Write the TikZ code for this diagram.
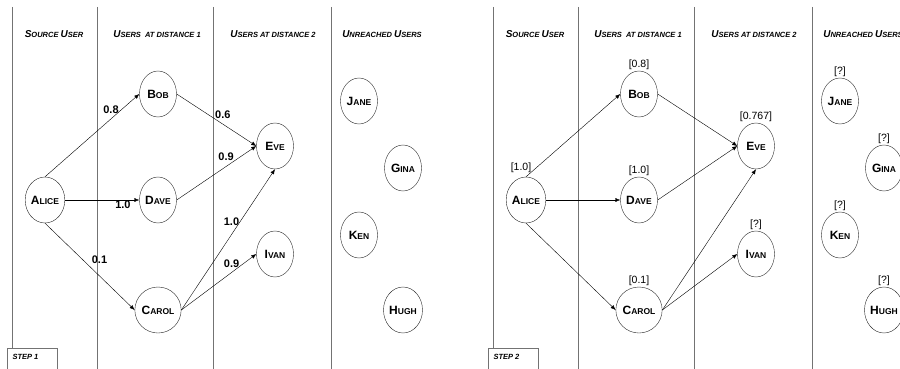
\documentclass[tikz,border=0pt]{standalone}
\usepackage{fontspec}
\setmainfont{Liberation Sans}
\usetikzlibrary{arrows.meta,shapes.geometric}

% big first letters for the small-caps look
\newcommand\ub[1]{{\fontsize{12}{13}\selectfont#1}}
\newcommand\hb[1]{{\fontsize{10}{11}\selectfont#1}}

\tikzset{
  user/.style={draw=black!85,ellipse,minimum width=37pt,minimum height=46pt,inner sep=0pt,
    font=\fontsize{8.5}{9}\selectfont\bfseries},
  hdr/.style={font=\fontsize{7.5}{8}\selectfont\bfseries\itshape},
  sep/.style={draw=black!55,line width=0.6pt},
  wt/.style={font=\fontsize{11}{12}\selectfont\bfseries,inner sep=1pt},
  val/.style={font=\fontsize{10.5}{12}\selectfont,inner sep=1pt},
  link/.style={-{Latex[length=5pt,width=4pt]},line width=0.4pt},
}

\newcommand\panelbg[1]{%
  \draw[sep] (12,7) -- (12,348);
  \foreach \x in {97,213,331} \draw[sep] (\x,7) -- (\x,369);
  \node[hdr] (h0) at (54,34) {\hb{S}OURCE \hb{U}SER};
  \node[hdr] (h1) at (157,34) {\hb{U}SERS\ \ AT DISTANCE 1};
  \node[hdr] (h2) at (273,34) {\hb{U}SERS AT DISTANCE 2};
  \node[hdr] (h3) at (382,34) {\hb{U}NREACHED \hb{U}SERS};
  \draw[sep] (7,372) |- (57,348) -- (57,372);
  \node[hdr,anchor=west] (st) at (9,357) {STEP #1};
}

\begin{document}
\begin{tikzpicture}[x=1pt,y=-1pt]
  \useasboundingbox (0,0) rectangle (900,369);

  % step 1
  \begin{scope}
    \panelbg{1}
    \node[user] (alice) at (45,200) {\ub{A}LICE};
    \node[user] (bob) at (158,94) {\ub{B}OB};
    \node[user] (dave) at (158,200) {\ub{D}AVE};
    \node[user] (carol) at (158,310) {\ub{C}AROL};
    \node[user] (eve) at (275,146) {\ub{E}VE};
    \node[user] (ivan) at (275,254) {\ub{I}VAN};
    \node[user] (jane) at (359,101) {\ub{J}ANE};
    \node[user] (gina) at (403,168) {\ub{G}INA};
    \node[user] (ken) at (359,235) {\ub{K}EN};
    \node[user] (hugh) at (403,310) {\ub{H}UGH};
    \draw[link] (alice.north) -- node[wt,pos=.7,above=4pt]{0.8} (bob.west);
    \draw[link] (alice.east) -- node[wt,pos=.78,below]{1.0} (dave.west);
    \draw[link] (alice.south) -- node[wt,pos=.42,right=8pt]{0.1} (carol.west);
    \draw[link] (bob.east) -- node[wt,pos=.58,above=4pt]{0.6} (eve.west);
    \draw[link] (dave.east) -- node[wt,pos=.62,above=5pt]{0.9} (eve.west);
    \draw[link] (carol.east) -- node[wt,pos=.63,left]{1.0} (eve.south);
    \draw[link] (carol.east) -- node[wt,pos=.67,above=4pt]{0.9} (ivan.west);
  \end{scope}

  % step 2
  \begin{scope}[xshift=481,name prefix=s2-]
    \panelbg{2}
    \node[user,label={[val,xshift=-5pt,yshift=3pt]above:[1.0]}] (alice) at (45,200) {\ub{A}LICE};
    \node[user,label={[val]above:[0.8]}] (bob) at (158,94) {\ub{B}OB};
    \node[user,label={[val]above:[1.0]}] (dave) at (158,200) {\ub{D}AVE};
    \node[user,label={[val]above:[0.1]}] (carol) at (158,310) {\ub{C}AROL};
    \node[user,label={[val]above:[0.767]}] (eve) at (275,146) {\ub{E}VE};
    \node[user,label={[val]above:[?]}] (ivan) at (275,254) {\ub{I}VAN};
    \node[user,label={[val]above:[?]}] (jane) at (359,101) {\ub{J}ANE};
    \node[user,label={[val]above:[?]}] (gina) at (403,168) {\ub{G}INA};
    \node[user,label={[val]above:[?]}] (ken) at (359,235) {\ub{K}EN};
    \node[user,label={[val]above:[?]}] (hugh) at (403,310) {\ub{H}UGH};
    \draw[link] (alice.north) -- (bob.west);
    \draw[link] (alice.east) -- (dave.west);
    \draw[link] (alice.south) -- (carol.west);
    \draw[link] (bob.east) -- (eve.west);
    \draw[link] (dave.east) -- (eve.west);
    \draw[link] (carol.east) -- (eve.south);
    \draw[link] (carol.east) -- (ivan.west);
  \end{scope}
\end{tikzpicture}
\end{document}
